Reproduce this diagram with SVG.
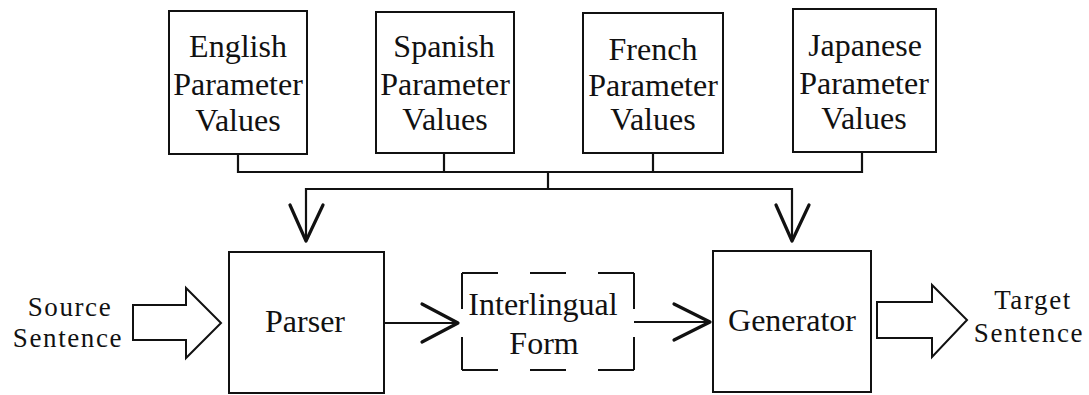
<svg xmlns="http://www.w3.org/2000/svg" width="1089" height="395" viewBox="0 0 1089 395">
<style>
.box{fill:none;stroke:#111;stroke-width:2}
.dash{fill:none;stroke:#111;stroke-width:2}
.ln{fill:none;stroke:#111;stroke-width:2.2}
.head{fill:none;stroke:#111;stroke-width:3.2;stroke-linecap:round;stroke-linejoin:round}
.blk{fill:#fff;stroke:#111;stroke-width:2;stroke-linejoin:miter}
.t{font-family:'Liberation Serif','DejaVu Serif',serif;font-size:32px;fill:#111;text-anchor:middle}
.s{font-family:'Liberation Serif','DejaVu Serif',serif;font-size:27px;letter-spacing:1.6px;fill:#111;text-anchor:middle}
</style>
<rect width="1089" height="395" fill="#fff"/>
<g id="english">
<rect class="box" x="169" y="11" width="138" height="143"/>
<text class="t" x="238" y="57">English</text><text class="t" x="238" y="95">Parameter</text><text class="t" x="238" y="131">Values</text>
</g>
<g id="spanish">
<rect class="box" x="376" y="12" width="138" height="141"/>
<text class="t" x="444" y="57">Spanish</text><text class="t" x="445" y="95">Parameter</text><text class="t" x="445" y="130">Values</text>
</g>
<g id="french">
<rect class="box" x="583" y="13" width="140" height="140"/>
<text class="t" x="653" y="60">French</text><text class="t" x="653" y="96">Parameter</text><text class="t" x="653" y="130">Values</text>
</g>
<g id="japanese">
<rect class="box" x="793" y="9" width="143" height="143"/>
<text class="t" x="865" y="56">Japanese</text><text class="t" x="864" y="94">Parameter</text><text class="t" x="864" y="129">Values</text>
</g>
<g id="parser">
<rect class="box" x="229" y="252" width="155" height="141"/>
<text class="t" x="305" y="332">Parser</text>
</g>
<g id="interlingual">
<line class="dash" x1="462" y1="273" x2="634" y2="273" stroke-dasharray="36 32"/>
<line class="dash" x1="462" y1="370" x2="634" y2="370" stroke-dasharray="36 32"/>
<line class="dash" x1="462" y1="273" x2="462" y2="370" stroke-dasharray="36 28"/>
<line class="dash" x1="634" y1="273" x2="634" y2="370" stroke-dasharray="36 28"/>
<text class="t" x="543" y="315">Interlingual</text><text class="t" x="544" y="354">Form</text>
</g>
<g id="generator">
<rect class="box" x="713" y="251" width="158" height="141"/>
<text class="t" x="792" y="331">Generator</text>
</g>
<g id="source">
<text class="s" x="70" y="316">Source</text><text class="s" x="68" y="347">Sentence</text>
</g>
<g id="target">
<text class="s" x="1033" y="309">Target</text><text class="s" x="1029" y="342">Sentence</text>
</g>
<g id="connectors">
<polyline class="ln" points="238,154 238,172 862,172 862,152"/>
<line class="ln" x1="444" y1="153" x2="444" y2="172"/>
<line class="ln" x1="653" y1="153" x2="653" y2="172"/>
<polyline class="ln" points="548,172 548,189"/>
<polyline class="ln" points="306,241 306,189 792,189 792,241"/>
<polyline class="head" points="290,205 306,241 323,205"/>
<polyline class="head" points="776,205 792,241 809,205"/>
<line class="ln" x1="384" y1="323" x2="457" y2="323"/>
<polyline class="head" points="422,304 458,323 422,342"/>
<line class="ln" x1="634" y1="322" x2="709" y2="322"/>
<polyline class="head" points="674,304 710,322 674,340"/>
<path class="blk" d="M133,305 H186 V288 L221,323 L186,358 V340 H133 Z"/>
<path class="blk" d="M877,302 H932 V285 L967,320 L932,357 V338 H877 Z"/>
</g>
</svg>
